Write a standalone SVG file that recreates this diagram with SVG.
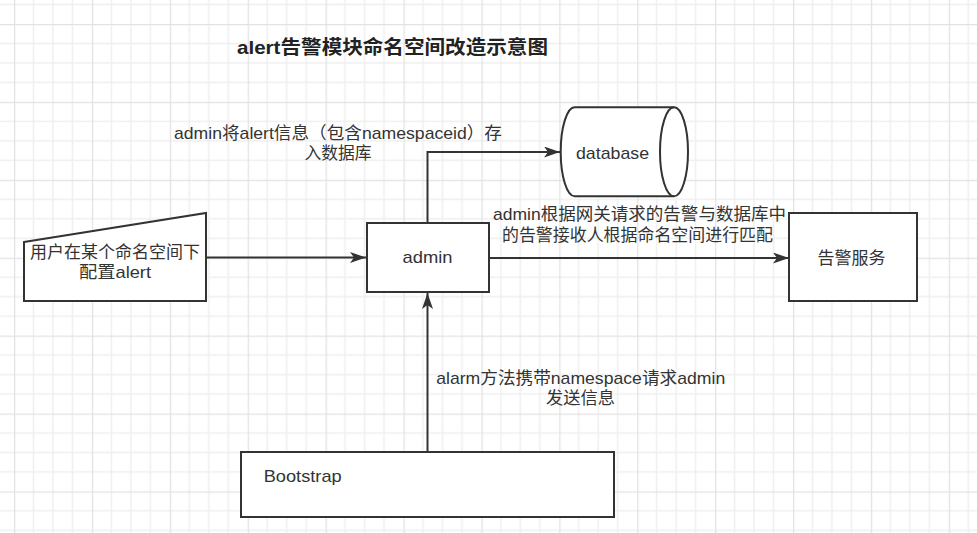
<svg xmlns="http://www.w3.org/2000/svg" width="977" height="533" viewBox="0 0 977 533">
<defs>
<pattern id="grid" x="14" y="24" width="77.9" height="77.9" patternUnits="userSpaceOnUse">
<path d="M19.475 0V77.9M38.95 0V77.9M58.425 0V77.9M0 19.475H77.9M0 38.95H77.9M0 58.425H77.9" stroke="#efefef" stroke-width="1.5" fill="none"/>
<path d="M0.5 0V77.9M0 0.5H77.9" stroke="#e2e2e2" stroke-width="1.5" fill="none"/>
</pattern>
<marker id="arr" markerWidth="17" markerHeight="12" refX="16" refY="5.5" orient="auto" markerUnits="userSpaceOnUse">
<path d="M0,0 L16,5.5 L0,11 L4,5.5 Z" fill="#333"/>
</marker>
<style>
.shape{fill:#fff;stroke:#333;stroke-width:2}
.conn{fill:none;stroke:#333;stroke-width:2}
.t{font-family:"Liberation Sans","Noto Sans CJK SC",sans-serif;font-size:17px;fill:#333;text-anchor:middle;dominant-baseline:central}
.title{font-family:"Liberation Sans","Noto Sans CJK SC",sans-serif;font-size:19px;font-weight:bold;fill:#222;text-anchor:middle;dominant-baseline:central}
</style>
</defs>
<rect width="977" height="533" fill="#fff"/>
<rect width="977" height="533" fill="url(#grid)"/>

<g id="title">
<text class="title" x="392.5" y="47" textLength="311" lengthAdjust="spacingAndGlyphs">alert告警模块命名空间改造示意图</text>
</g>

<g id="connectors">
<path class="conn" d="M206,257.5 H366" marker-end="url(#arr)"/>
<path class="conn" d="M489,258 H789" marker-end="url(#arr)"/>
<path class="conn" d="M427.5,223 V152 H560" marker-end="url(#arr)"/>
<path class="conn" d="M427.5,452 V293" marker-end="url(#arr)"/>
</g>

<g id="label-db">
<text class="t"><tspan x="338" y="133" textLength="328" lengthAdjust="spacingAndGlyphs">admin将alert信息（包含namespaceid）存</tspan><tspan x="338" y="153" textLength="67" lengthAdjust="spacingAndGlyphs">入数据库</tspan></text>
</g>
<g id="label-match">
<text class="t"><tspan x="639.5" y="213.5" textLength="293" lengthAdjust="spacingAndGlyphs">admin根据网关请求的告警与数据库中</tspan><tspan x="637.5" y="234.5" textLength="271" lengthAdjust="spacingAndGlyphs">的告警接收人根据命名空间进行匹配</tspan></text>
</g>
<g id="label-alarm">
<text class="t"><tspan x="580.7" y="378" textLength="289" lengthAdjust="spacingAndGlyphs">alarm方法携带namespace请求admin</tspan><tspan x="580.5" y="398" textLength="69" lengthAdjust="spacingAndGlyphs">发送信息</tspan></text>
</g>

<g id="node-user">
<polygon class="shape" points="24,242 206,213 206,301 24,301"/>
<text class="t"><tspan x="115" y="252" textLength="170" lengthAdjust="spacingAndGlyphs">用户在某个命名空间下</tspan><tspan x="115" y="272" textLength="72" lengthAdjust="spacingAndGlyphs">配置alert</tspan></text>
</g>

<g id="node-admin">
<rect class="shape" x="367" y="223" width="122" height="69"/>
<text class="t" x="427.5" y="257.5" textLength="50" lengthAdjust="spacingAndGlyphs">admin</text>
</g>

<g id="node-database">
<path class="shape" d="M574.7,107.3 H674 A14,44.5 0 0 1 674,196.3 H574.7 A14,44.5 0 0 1 574.7,107.3 Z"/>
<path class="conn" d="M674,107.3 A14,44.5 0 0 0 674,196.3"/>
<text class="t" x="612.5" y="153" textLength="73" lengthAdjust="spacingAndGlyphs">database</text>
</g>

<g id="node-alert-service">
<rect class="shape" x="789" y="213" width="128" height="88"/>
<text class="t" x="851.5" y="258">告警服务</text>
</g>

<g id="node-bootstrap">
<rect class="shape" x="241" y="452" width="373" height="65"/>
<text class="t" x="263.7" y="476" style="text-anchor:start" textLength="78" lengthAdjust="spacingAndGlyphs">Bootstrap</text>
</g>
</svg>
